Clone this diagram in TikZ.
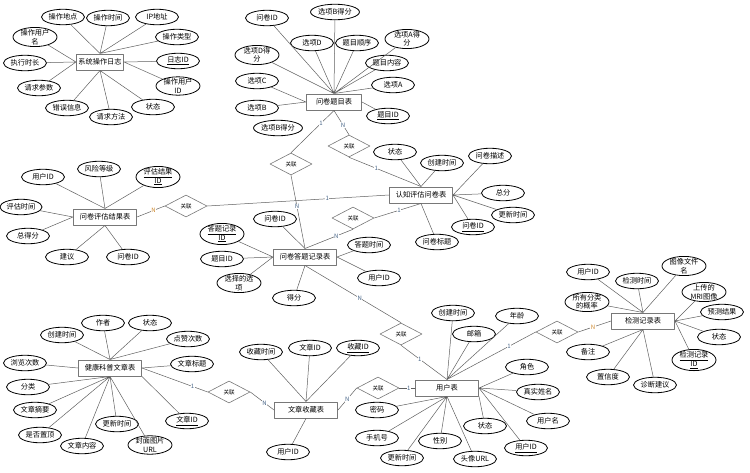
\documentclass[tikz,border=0pt]{standalone}
\usepackage{fontspec}
\usepackage{tikz}
\usetikzlibrary{shapes.geometric}
\newfontfamily\cjk{Noto Sans CJK SC}
\definecolor{cardblue}{RGB}{70,100,135}
\definecolor{cardorange}{RGB}{205,135,45}
\definecolor{boxgray}{RGB}{120,120,120}
\definecolor{linegray}{RGB}{95,95,95}

\begin{document}
\begin{tikzpicture}[x=1pt, y=-1pt, line cap=round, line join=round,
    entity/.style={draw=boxgray, line width=1pt, fill=white, minimum width=63pt, minimum height=16pt, inner sep=1pt, font=\cjk\fontsize{7.2}{8}\selectfont},
    attr/.style={ellipse, draw=black, line width=0.8pt, fill=white, minimum width=43pt, minimum height=15.5pt, inner sep=0.5pt, align=center, font=\cjk\fontsize{7.2}{8.5}\selectfont},
    attrtwo/.style={attr, minimum width=44pt, inner ysep=-0.8pt},
    rel/.style={diamond, draw=boxgray, line width=0.6pt, fill=white, minimum width=42pt, minimum height=22pt, inner sep=0pt, font=\cjk\fontsize{5.5}{6}\selectfont},
    link/.style={draw=linegray, line width=0.5pt},
    card/.style={fill=white, inner sep=0.4pt, text=cardblue, font=\cjk\fontsize{6}{6}\selectfont},
    cardn/.style={card, text=cardorange}]
    \useasboundingbox (0,0) rectangle (750,472);

    %System Log Table
    \node[entity, minimum width=47pt] (log) at (100,62) {系统操作日志};
    \node[attr] (logPlace) at (63,17) {操作地点};
    \node[attr] (logTime) at (108,18) {操作时间};
    \node[attr] (logIp) at (157,17) {IP地址};
    \node[attr] (logType) at (177,37) {操作类型};
    \node[attrtwo] (logUser) at (35,37) {操作用户\\名};
    \node[attr] (logDur) at (25,63) {执行时长};
    \node[attr] (logParam) at (39,88) {请求参数};
    \node[attr] (logErr) at (67,108) {错误信息};
    \node[attr] (logMeth) at (111,117) {请求方法};
    \node[attr] (logState) at (153,107) {状态};
    \node[attr] (logId) at (178,61) {\underline{日志ID}};
    \node[attrtwo] (logUid) at (178,86) {操作用户\\ID};
    \draw[link] (log.north) -- (logPlace) (log.north) -- (logTime) (log.north) -- (logIp) (log.north) -- (logType)
        (log.west) -- (logUser) (log.west) -- (logDur) (log.west) -- (logParam)
        (log.south) -- (logErr) (log.south) -- (logMeth) (log.south) -- (logState)
        (log.east) -- (logId) (log.east) -- (logUid);

    %Question Item Table
    \node[entity, minimum width=55pt] (qitem) at (334,102) {问卷题目表};
    \node[attr] (qiQid) at (267,18) {问卷ID};
    \node[attr] (qiBsTop) at (335,12) {选项B得分};
    \node[attr] (qiD) at (312,43) {选项D};
    \node[attr] (qiOrd) at (357,43) {题目顺序};
    \node[attrtwo] (qiAs) at (407,39) {选项A得\\分};
    \node[attrtwo] (qiDs) at (257,55) {选项D得\\分};
    \node[attr] (qiCont) at (387,63) {题目内容};
    \node[attr] (qiC) at (257,81) {选项C};
    \node[attr] (qiA) at (393,85) {选项A};
    \node[attr] (qiB) at (257,108) {选项B};
    \node[attr] (qiId) at (388,116) {\underline{题目ID}};
    \node[attr] (qiBsLow) at (278,128) {选项B得分};
    \draw[link] (qitem.north) -- (qiQid) (qitem.north) -- (qiBsTop) (qitem.north) -- (qiD) (qitem.north) -- (qiOrd)
        (qitem.north) -- (qiAs) (qitem.north) -- (qiDs) (qitem.north) -- (qiCont) (qitem.north) -- (qiA)
        (qitem.west) -- (qiC) (qitem.west) -- (qiB) (qitem.east) -- (qiId);

    %Cognitive Survey Table
    \node[entity] (survey) at (421,195) {认知评估问卷表};
    \node[attr] (svState) at (395,152) {状态};
    \node[attr] (svCreate) at (442,163) {创建时间};
    \node[attr] (svDesc) at (490,156) {问卷描述};
    \node[attr] (svTotal) at (503,193) {总分};
    \node[attr] (svUpd) at (513,215) {更新时间};
    \node[attr] (svId) at (473,227) {\underline{问卷ID}};
    \node[attr] (svTitle) at (437,242) {问卷标题};
    \draw[link] (survey.north) -- (svState) (survey.north) -- (svCreate)
        (survey.east) -- (svDesc) (survey.east) -- (svTotal) (survey.east) -- (svUpd) (survey.east) -- (svId)
        (survey.south) -- (svTitle);

    %Assessment Result Table
    \node[entity] (result) at (105,217) {问卷评估结果表};
    \node[attr] (rsUid) at (43,177) {用户ID};
    \node[attr] (rsRisk) at (99,169) {风险等级};
    \node[attrtwo] (rsId) at (158,177) {\underline{评估结果}\\\underline{ID}};
    \node[attr, minimum width=38pt] (rsTime) at (21,207) {评估时间};
    \node[attr] (rsScore) at (28,236) {总得分};
    \node[attr] (rsAdv) at (67,257) {建议};
    \node[attr] (rsQid) at (128,257) {问卷ID};
    \draw[link] (result.north) -- (rsUid) (result.north) -- (rsRisk) (result.north) -- (rsId)
        (result.west) -- (rsTime) (result.west) -- (rsScore)
        (result.south) -- (rsAdv) (result.south) -- (rsQid);

    %Answer Record Table
    \node[entity] (answer) at (305,257) {问卷答题记录表};
    \node[attr] (anQid) at (275,219) {问卷ID};
    \node[attrtwo] (anId) at (222,234) {\underline{答题记录}\\\underline{ID}};
    \node[attr] (anItem) at (222,259) {题目ID};
    \node[attrtwo] (anOpt) at (239,283) {选择的选\\项};
    \node[attr] (anScore) at (294,298) {得分};
    \node[attr] (anTime) at (369,245) {答题时间};
    \node[attr] (anUid) at (379,278) {用户ID};
    \draw[link] (answer.north) -- (anQid) (answer.west) -- (anId) (answer.west) -- (anItem) (answer.west) -- (anOpt)
        (answer.south) -- (anScore) (answer.east) -- (anTime) (answer.east) -- (anUid);

    %User Table
    \node[entity] (user) at (447,388) {用户表};
    \node[attr] (usCreate) at (453,313) {创建时间};
    \node[attr] (usMail) at (474,334) {邮箱};
    \node[attr] (usAge) at (517,316) {年龄};
    \node[attr] (usRole) at (527,367) {角色};
    \node[attr] (usName) at (538,392) {真实姓名};
    \node[attr] (usLogin) at (548,421) {用户名};
    \node[attr] (usId) at (526,448) {\underline{用户ID}};
    \node[attr] (usState) at (485,426) {状态};
    \node[attr] (usAvatar) at (475,459) {头像URL};
    \node[attr] (usSex) at (440,441) {性别};
    \node[attr] (usUpd) at (402,458) {更新时间};
    \node[attr] (usPhone) at (377,438) {手机号};
    \node[attr] (usPwd) at (377,410) {密码};
    \draw[link] (user.north) -- (usCreate) (user.north) -- (usMail) (user.north) -- (usAge)
        (user.east) -- (usRole) (user.east) -- (usName) (user.east) -- (usLogin) (user.east) -- (usId)
        (user.south east) -- (usState) (user.south) -- (usAvatar) (user.south) -- (usSex)
        (user.south) -- (usUpd) (user.south) -- (usPhone) (user.south) -- (usPwd);

    %Favourite Table
    \node[entity] (fav) at (306,410) {文章收藏表};
    \node[attr] (fvTime) at (261,352) {收藏时间};
    \node[attr] (fvAid) at (310,348) {文章ID};
    \node[attr] (fvId) at (358,348) {\underline{收藏ID}};
    \node[attr] (fvUid) at (288,452) {用户ID};
    \draw[link] (fav.north) -- (fvTime) (fav.north) -- (fvAid) (fav.north) -- (fvId) (fav.south) -- (fvUid);

    %Article Table
    \node[entity] (article) at (110,368) {健康科普文章表};
    \node[attr] (arAuthor) at (103,323) {作者};
    \node[attr] (arState) at (150,323) {状态};
    \node[attr] (arCreate) at (62,335) {创建时间};
    \node[attr] (arLike) at (188,339) {点赞次数};
    \node[attr] (arView) at (25,363) {浏览次数};
    \node[attr] (arTitle) at (192,364) {文章标题};
    \node[attr] (arCat) at (28,387) {分类};
    \node[attr] (arAbs) at (35,410) {文章摘要};
    \node[attr] (arTop) at (40,435) {是否置顶};
    \node[attr] (arCont) at (82,446) {文章内容};
    \node[attr] (arUpd) at (117,424) {更新时间};
    \node[attrtwo] (arCover) at (150,445) {封面图片\\URL};
    \node[attr] (arId) at (187,421) {\underline{文章ID}};
    \draw[link] (article.north) -- (arAuthor) (article.north) -- (arState) (article.north) -- (arCreate) (article.north) -- (arLike)
        (article.west) -- (arView) (article.east) -- (arTitle)
        (article.south) -- (arCat) (article.south) -- (arAbs) (article.south) -- (arTop) (article.south) -- (arCont)
        (article.south) -- (arUpd) (article.south) -- (arCover) (article.south east) -- (arId);

    %Detection Record Table
    \node[entity] (detect) at (643,321) {检测记录表};
    \node[attr] (dtUid) at (588,272) {用户ID};
    \node[attr] (dtTime) at (637,281) {检测时间};
    \node[attrtwo] (dtFile) at (684,266) {图像文件\\名};
    \node[attrtwo] (dtProb) at (587,302) {所有分类\\的概率};
    \node[attrtwo] (dtMri) at (704,292) {上传的\\MRI图像};
    \node[attr] (dtPred) at (722,312) {预测结果};
    \node[attr] (dtState) at (719,337) {状态};
    \node[attrtwo] (dtId) at (694,360) {\underline{检测记录}\\\underline{ID}};
    \node[attr] (dtNote) at (588,352) {备注};
    \node[attr] (dtConf) at (608,377) {置信度};
    \node[attr] (dtAdv) at (655,385) {诊断建议};
    \draw[link] (detect.north) -- (dtUid) (detect.north) -- (dtTime) (detect.north) -- (dtFile) (detect.north) -- (dtProb)
        (detect.east) -- (dtMri) (detect.east) -- (dtPred) (detect.east) -- (dtState) (detect.east) -- (dtId)
        (detect.south) -- (dtNote) (detect.south) -- (dtConf) (detect.south) -- (dtAdv);

    %Relationships
    \node[rel] (relItemAns) at (291,164) {关联};
    \node[rel] (relItemSv) at (349,146) {关联};
    \node[rel] (relAnsSv) at (353,218) {关联};
    \node[rel] (relResSv) at (186,206) {关联};
    \node[rel] (relAnsUser) at (401,334) {关联};
    \node[rel] (relFavUser) at (378,388) {关联};
    \node[rel] (relArtFav) at (229,392) {关联};
    \node[rel] (relUserDt) at (557,332) {关联};

    \draw[link] (qitem.south) -- (relItemAns.north) node[card, pos=0.3] {1};
    \draw[link] (relItemAns.south) -- (answer.north) node[card, pos=0.43] {N};
    \draw[link] (qitem.south) -- (relItemSv.north) node[card, pos=0.6] {N};
    \draw[link] (relItemSv.south) -- (survey.north) node[card, pos=0.38] {1};
    \draw[link] (result.east) -- (relResSv.west) node[cardn, pos=0.6] {N};
    \draw[link] (relResSv.east) -- (survey.west) node[card, pos=0.66] {1};
    \draw[link] (answer.north) -- (relAnsSv.south) node[card, pos=0.65] {N};
    \draw[link] (relAnsSv.east) -- (survey.south) node[card, pos=0.53] {1};
    \draw[link] (answer.south) -- (relAnsUser.north) node[card, pos=0.57] {N};
    \draw[link] (relAnsUser.south) -- (user.north) node[card, pos=0.41] {1};
    \draw[link] (user.west) -- (relFavUser.east) node[card, pos=0.4] {1};
    \draw[link] (relFavUser.west) -- (fav.east) node[card, pos=0.5] {N};
    \draw[link] (fav.west) -- (relArtFav.east) node[card, pos=0.4] {N};
    \draw[link] (relArtFav.west) -- (article.east) node[card, pos=0.23] {1};
    \draw[link] (user.north) -- (relUserDt.west) node[card, pos=0.7] {1};
    \draw[link] (relUserDt.east) -- (detect.west) node[cardn, pos=0.45] {N};
\end{tikzpicture}
\end{document}
